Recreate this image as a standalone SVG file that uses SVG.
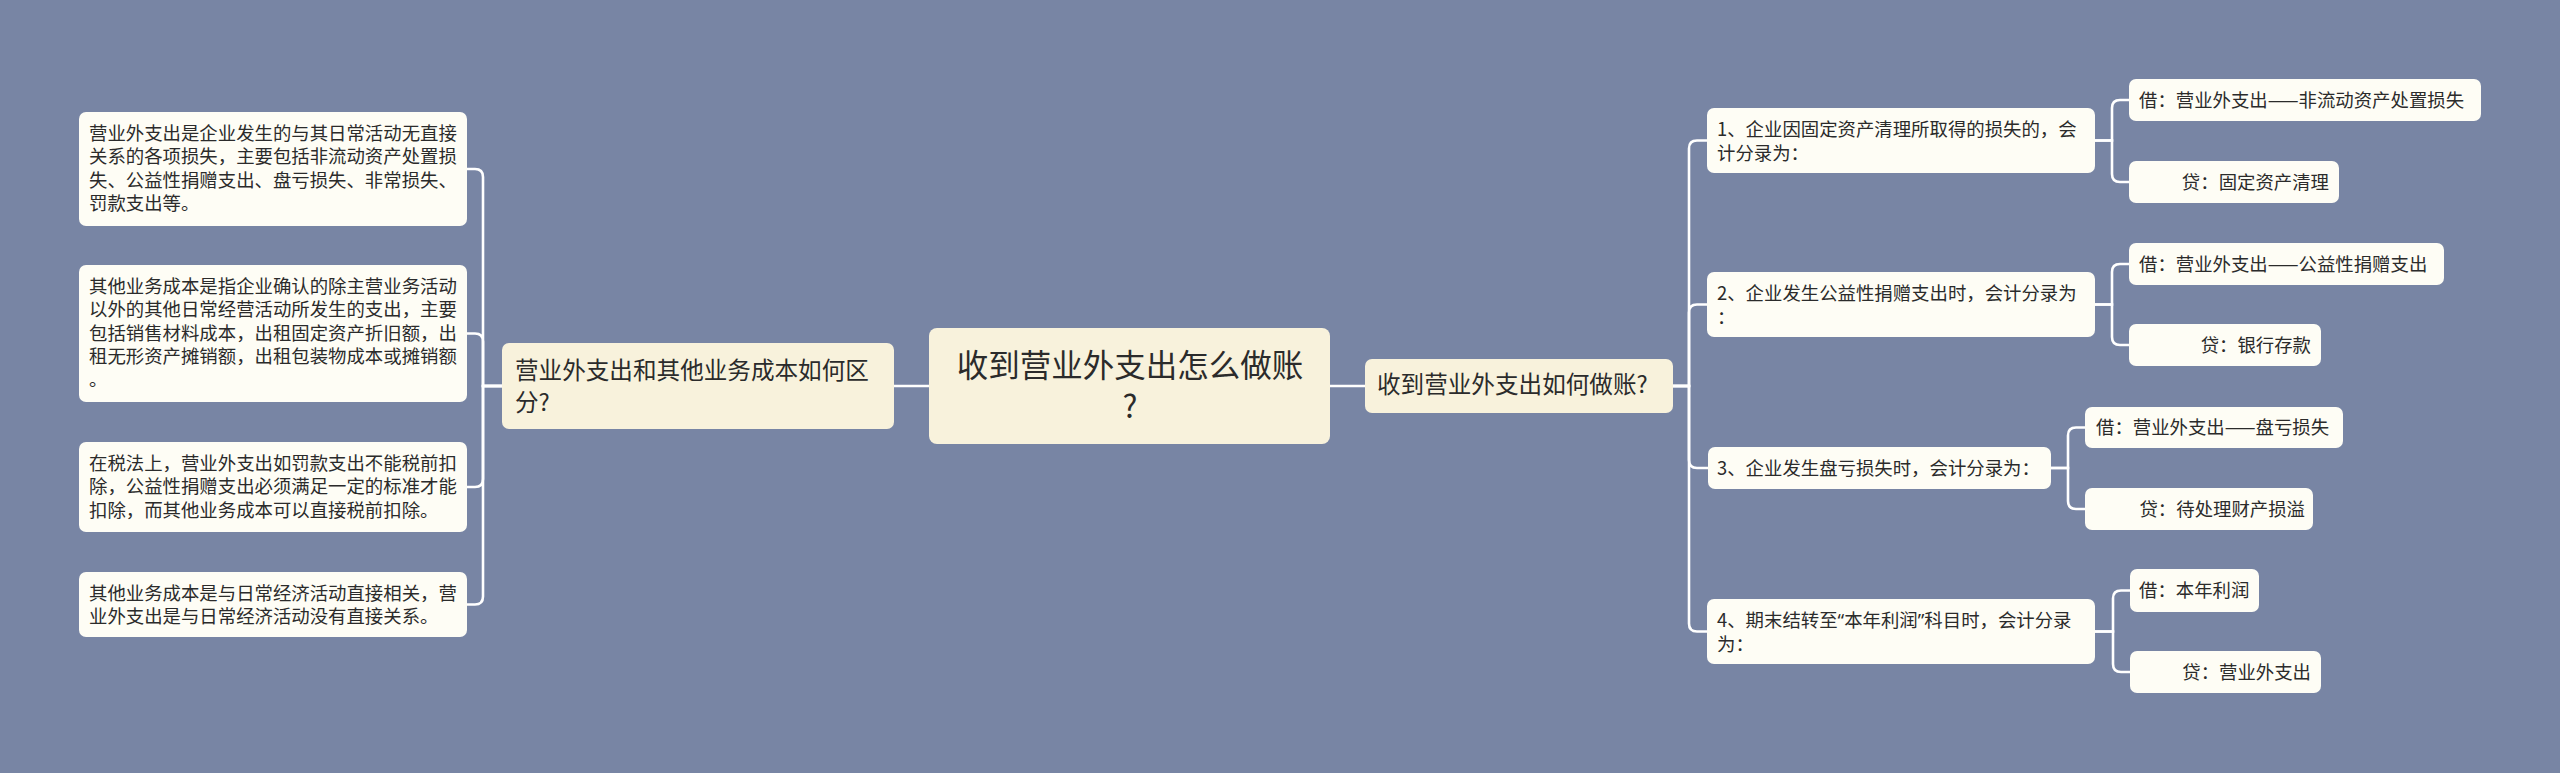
<svg xmlns="http://www.w3.org/2000/svg" width="2560" height="773" viewBox="0 0 2560 773">
<style>
text{font-family:"Noto Sans CJK SC","Noto Sans",sans-serif;fill:#2b2b2b}
.q{font-family:"Noto Sans","Liberation Sans",sans-serif}
.leaf{fill:#fefdf5}
.main{fill:#f8f2dc}
.s{font-size:18.4px}
.m{font-size:23.6px}
.c{font-size:31.5px}
.con path{fill:none;stroke:#ffffff;stroke-width:2.6}
</style>
<rect width="2560" height="773" fill="#7885a4"/>
<g class="con">
<path d="M929 386H894"/>
<path d="M1330 386H1365"/>
<path d="M502 386H483V177Q483 169 475 169H467"/>
<path d="M502 386H483V341.5Q483 333.5 475 333.5H467"/>
<path d="M502 386H483V479Q483 487 475 487H467"/>
<path d="M502 386H483V596.5Q483 604.5 475 604.5H467"/>
<path d="M1673 386H1689V148.5Q1689 140.5 1697 140.5H1707"/>
<path d="M1673 386H1689V312.5Q1689 304.5 1697 304.5H1707"/>
<path d="M1673 386H1689V460Q1689 468 1697 468H1708"/>
<path d="M1673 386H1689V623.5Q1689 631.5 1697 631.5H1707"/>
<path d="M2095 140.5H2112V108Q2112 100 2120 100H2129"/>
<path d="M2095 140.5H2112V174Q2112 182 2120 182H2129"/>
<path d="M2095 304.5H2112V272Q2112 264 2120 264H2129"/>
<path d="M2095 304.5H2112V337Q2112 345 2120 345H2129"/>
<path d="M2051 468H2068V435.5Q2068 427.5 2076 427.5H2085"/>
<path d="M2051 468H2068V501Q2068 509 2076 509H2085"/>
<path d="M2095 631.5H2113V598.5Q2113 590.5 2121 590.5H2130"/>
<path d="M2095 631.5H2113V664Q2113 672 2121 672H2130"/>
</g>
<g id="center">
<rect class="main" x="929" y="328" width="401" height="116" rx="8"/>
<text class="c" x="1130" y="377" text-anchor="middle">收到营业外支出怎么做账</text>
<text class="c" x="1130" y="418" text-anchor="middle">?</text>
</g>
<g id="left-main">
<rect class="main" x="502" y="343" width="392" height="86" rx="7"/>
<text class="m" x="515" y="379">营业外支出和其他业务成本如何区</text>
<text class="m" x="515" y="411">分?</text>
</g>
<g id="right-main">
<rect class="main" x="1365" y="359" width="308" height="54" rx="7"/>
<text class="m" x="1377" y="393">收到营业外支出如何做账?</text>
</g>
<g id="L1">
<rect class="leaf" x="79" y="112" width="388" height="114" rx="7"/>
<text class="s" x="89" y="140">营业外支出是企业发生的与其日常活动无直接</text>
<text class="s" x="89" y="163.3">关系的各项损失，主要包括非流动资产处置损</text>
<text class="s" x="89" y="186.6">失、公益性捐赠支出、盘亏损失、非常损失、</text>
<text class="s" x="89" y="210">罚款支出等。</text>
</g>
<g id="L2">
<rect class="leaf" x="79" y="265" width="388" height="137" rx="7"/>
<text class="s" x="89" y="293">其他业务成本是指企业确认的除主营业务活动</text>
<text class="s" x="89" y="316.3">以外的其他日常经营活动所发生的支出，主要</text>
<text class="s" x="89" y="339.6">包括销售材料成本，出租固定资产折旧额，出</text>
<text class="s" x="89" y="363">租无形资产摊销额，出租包装物成本或摊销额</text>
<text class="s" x="89" y="386.2">。</text>
</g>
<g id="L3">
<rect class="leaf" x="79" y="442" width="388" height="90" rx="7"/>
<text class="s" x="89" y="470">在税法上，营业外支出如罚款支出不能税前扣</text>
<text class="s" x="89" y="493.3">除，公益性捐赠支出必须满足一定的标准才能</text>
<text class="s" x="89" y="516.6">扣除，而其他业务成本可以直接税前扣除。</text>
</g>
<g id="L4">
<rect class="leaf" x="79" y="572" width="388" height="65" rx="7"/>
<text class="s" x="89" y="599.5">其他业务成本是与日常经济活动直接相关，营</text>
<text class="s" x="89" y="622.8">业外支出是与日常经济活动没有直接关系。</text>
</g>
<g id="R1">
<rect class="leaf" x="1707" y="108" width="388" height="65" rx="7"/>
<text class="s" x="1717" y="136">1、企业因固定资产清理所取得的损失的，会</text>
<text class="s" x="1717" y="160">计分录为：</text>
</g>
<g id="R2">
<rect class="leaf" x="1707" y="272" width="388" height="65" rx="7"/>
<text class="s" x="1717" y="300">2、企业发生公益性捐赠支出时，会计分录为</text>
<text class="s" x="1717" y="324">：</text>
</g>
<g id="R3">
<rect class="leaf" x="1708" y="447" width="343" height="42" rx="7"/>
<text class="s" x="1717" y="474.5">3、企业发生盘亏损失时，会计分录为：</text>
</g>
<g id="R4">
<rect class="leaf" x="1707" y="599" width="388" height="65" rx="7"/>
<text class="s" x="1717" y="627">4、期末结转至<tspan class="q">“</tspan>本年利润<tspan class="q">”</tspan>科目时，会计分录</text>
<text class="s" x="1717" y="651">为：</text>
</g>
<g id="R1a">
<rect class="leaf" x="2129" y="79" width="352" height="42" rx="7"/>
<text class="s" x="2139" y="106.5">借：营业外支出——非流动资产处置损失</text>
</g>
<g id="R1b">
<rect class="leaf" x="2129" y="161" width="210" height="42" rx="7"/>
<text class="s" x="2329" y="188.5" text-anchor="end">贷：固定资产清理</text>
</g>
<g id="R2a">
<rect class="leaf" x="2129" y="243" width="315" height="42" rx="7"/>
<text class="s" x="2139" y="270.5">借：营业外支出——公益性捐赠支出</text>
</g>
<g id="R2b">
<rect class="leaf" x="2129" y="324" width="192" height="42" rx="7"/>
<text class="s" x="2311" y="351.5" text-anchor="end">贷：银行存款</text>
</g>
<g id="R3a">
<rect class="leaf" x="2085" y="407" width="258" height="41" rx="7"/>
<text class="s" x="2096" y="434">借：营业外支出——盘亏损失</text>
</g>
<g id="R3b">
<rect class="leaf" x="2085" y="488" width="228" height="42" rx="7"/>
<text class="s" x="2305" y="515.5" text-anchor="end">贷：待处理财产损溢</text>
</g>
<g id="R4a">
<rect class="leaf" x="2130" y="569" width="129" height="43" rx="7"/>
<text class="s" x="2139" y="597">借：本年利润</text>
</g>
<g id="R4b">
<rect class="leaf" x="2130" y="651" width="191" height="42" rx="7"/>
<text class="s" x="2311" y="678.5" text-anchor="end">贷：营业外支出</text>
</g>
</svg>
